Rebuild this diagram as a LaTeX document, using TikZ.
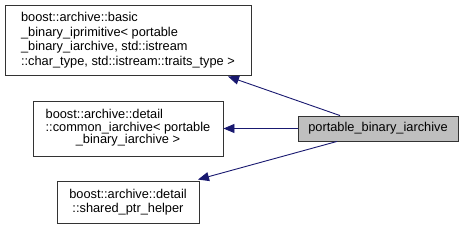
\documentclass[tikz,border=0pt]{standalone}
\usepackage{fontspec}
\setmainfont{Liberation Sans}
\usetikzlibrary{arrows.meta,calc}
\definecolor{edgeblue}{HTML}{191970}
\begin{document}
\begin{tikzpicture}[x=1pt,y=-1pt,
  cls/.style={draw=black!80,line width=0.9pt,fill=white,inner sep=0pt,font=\fontsize{12.8}{14.5}\selectfont},
  inh/.style={draw=edgeblue,line width=0.9pt,-{Triangle[length=11pt,width=9pt]}}]
\useasboundingbox (0,0) rectangle (464,228);
\node[cls,minimum width=246pt,minimum height=70pt,align=left] (b1) at (128,40)
  {boost::archive::basic\\\_binary\_iprimitive< portable\\\_binary\_iarchive, std::istream\\::char\_type, std::istream::traits\_type >};
\node[cls,minimum width=190pt,minimum height=55pt] (b2) at (128,128.5)
  {\begin{tabular}{@{}l@{}}boost::archive::detail\\[-2pt]::common\_iarchive< portable\\[-2pt]\multicolumn{1}{@{}c@{}}{\_binary\_iarchive >}\end{tabular}};
\node[cls,minimum width=142pt,minimum height=42pt,align=center] (b3) at (128,202)
  {boost::archive::detail\\::shared\_ptr\_helper};
\node[cls,fill=black!25,minimum width=160pt,minimum height=25pt] (main) at (378,128.5)
  {portable\_binary\_iarchive};
\draw[inh] ($(main.north)+(-38,0)$) -- ($(b1.south)+(100,1)$);
\draw[inh] (main.west) -- (b2.east);
\draw[inh] ($(main.south)+(-41,0)$) -- ($(b3.north)+(70,-1)$);
\end{tikzpicture}
\end{document}
